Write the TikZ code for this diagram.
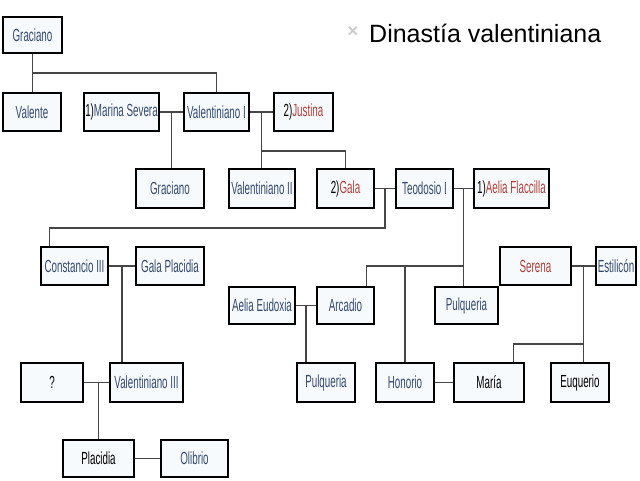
\documentclass[tikz,border=0pt]{standalone}
\usepackage{fontspec}
\setmainfont{Liberation Sans}
\newfontfamily\estrecha{Liberation Sans}[FakeStretch=0.56]
\usepackage{tikz}
\usetikzlibrary{calc}

\definecolor{azul}{RGB}{52,73,110}
\definecolor{rojo}{RGB}{176,64,56}
\definecolor{fondo}{RGB}{247,250,253}
\definecolor{linea}{RGB}{70,70,70}

\begin{document}
\begin{tikzpicture}[x=1pt,y=-1pt,
	caja/.style={draw,line width=2.2pt,fill=fondo,inner sep=0pt,font=\estrecha\fontsize{17.5}{19}\selectfont},
	azulcaja/.style={caja,text=azul},
	union/.style={draw=linea,line width=1.1pt}]
						\useasboundingbox (0,0) rectangle (640,480);
						
						% Title
						\node[text=gray!40,font=\bfseries\fontsize{19}{19}\selectfont] (marca) at (353,32) {×};
						\node[anchor=base west,inner sep=0pt,font=\fontsize{25}{25}\selectfont] (titulo) at (369,42) {Dinastía valentiniana};
						
						% Define the boxes of the family tree
						\node[azulcaja,minimum width=59pt,minimum height=36pt] (Graciano) at (32.5,35) {Graciano};
						
						\node[azulcaja,minimum width=58pt,minimum height=38pt] (Valente) at (32,112) {Valente};
						\node[caja,minimum width=75pt,minimum height=38pt] (MarinaSevera) at (121.5,112) {1)\textcolor{azul}{Marina Severa}};
						\node[azulcaja,minimum width=65pt,minimum height=38pt] (ValentinianoI) at (216.5,112) {Valentiniano I};
						\node[caja,minimum width=59pt,minimum height=38pt] (Justina) at (303.5,112) {2)\textcolor{rojo}{Justina}};
						
						\node[azulcaja,minimum width=68pt,minimum height=39pt] (GracianoII) at (170,188.5) {Graciano};
						\node[azulcaja,minimum width=66pt,minimum height=39pt] (ValentinianoII) at (262,188.5) {Valentiniano II};
						\node[caja,minimum width=57pt,minimum height=39pt] (Gala) at (345.5,188.5) {2)\textcolor{rojo}{Gala}};
						\node[azulcaja,minimum width=57pt,minimum height=39pt] (TeodosioI) at (424.5,188.5) {Teodosio I};
						\node[caja,minimum width=75pt,minimum height=39pt] (AeliaFlaccilla) at (511.5,188.5) {1)\textcolor{rojo}{Aelia Flaccilla}};
						
						\node[azulcaja,minimum width=67pt,minimum height=38pt] (ConstancioIII) at (74.5,266) {Constancio III};
						\node[azulcaja,minimum width=68pt,minimum height=38pt] (GalaPlacidia) at (170,266) {Gala Placidia};
						\node[caja,text=rojo,minimum width=71pt,minimum height=38pt] (Serena) at (535.5,266) {Serena};
						\node[azulcaja,minimum width=40pt,minimum height=38pt] (Estilicon) at (616,266) {Estilicón};
						
						\node[azulcaja,minimum width=66pt,minimum height=37pt] (AeliaEudoxia) at (262,305.5) {Aelia Eudoxia};
						\node[azulcaja,minimum width=57pt,minimum height=37pt] (Arcadio) at (345.5,305.5) {Arcadio};
						\node[azulcaja,minimum width=63pt,minimum height=37pt] (PulqueriaI) at (466.5,305.5) {Pulqueria};
						
						\node[caja,minimum width=62pt,minimum height=39pt] (Desconocido) at (52,382.5) {?};
						\node[azulcaja,minimum width=73pt,minimum height=39pt] (ValentinianoIII) at (146.5,382.5) {Valentiniano III};
						\node[azulcaja,minimum width=58pt,minimum height=39pt] (PulqueriaII) at (326,382.5) {Pulqueria};
						\node[azulcaja,minimum width=58pt,minimum height=39pt] (Honorio) at (405,382.5) {Honorio};
						\node[caja,minimum width=70pt,minimum height=39pt] (Maria) at (489,382.5) {María};
						\node[caja,minimum width=58pt,minimum height=39pt] (Euquerio) at (580,382.5) {Euquerio};
						
						\node[caja,minimum width=71pt,minimum height=37pt] (Placidia) at (98.5,458.5) {Placidia};
						\node[azulcaja,minimum width=67pt,minimum height=37pt] (Olibrio) at (194.5,458.5) {Olibrio};
						
						% Define the levels of the branches
						\coordinate (nivelA) at (0,73);
						\coordinate (nivelB) at (0,151);
						\coordinate (nivelC) at (0,228);
						\coordinate (nivelD) at (0,266);
						\coordinate (nivelE) at (0,344);
						
						% Draw the children of Graciano
						\draw[union] (Graciano.south) -- (Graciano.south |- Valente.north);
						\draw[union] (Graciano.south |- nivelA) -| (ValentinianoI.north);
						
						% Draw the marriages of Valentiniano I
						\draw[union] (MarinaSevera) -- (ValentinianoI);
						\draw[union] (ValentinianoI) -- (Justina);
						\coordinate (m1) at ($(MarinaSevera.east)!0.5!(ValentinianoI.west)$);
						\coordinate (m2) at ($(ValentinianoI.east)!0.5!(Justina.west)$);
						\draw[union] (m1) -- (m1 |- GracianoII.north);
						\draw[union] (m2) -- (m2 |- ValentinianoII.north);
						\draw[union] (m2 |- nivelB) -| (Gala.north);
						
						% Draw the marriages of Teodosio I
						\draw[union] (Gala) -- (TeodosioI);
						\draw[union] (TeodosioI) -- (AeliaFlaccilla);
						\coordinate (m3) at ($(Gala.east)!0.5!(TeodosioI.west)$);
						\coordinate (m4) at ($(TeodosioI.east)!0.5!(AeliaFlaccilla.west)$);
						\draw[union] (m3) -- (m3 |- nivelC) -| ([xshift=10pt]ConstancioIII.north west);
						\draw[union] (m4) -- (m4 |- PulqueriaI.north);
						\draw[union] (m4 |- nivelD) -| ([xshift=-9pt]Arcadio.north east);
						\draw[union] (Honorio.north) -- (Honorio.north |- nivelD);
						
						% Draw the line of Gala Placidia
						\draw[union] (ConstancioIII) -- (GalaPlacidia);
						\coordinate (m5) at ($(ConstancioIII.east)!0.5!(GalaPlacidia.west)$);
						\draw[union] (m5) -- (m5 |- ValentinianoIII.north);
						\draw[union] (Desconocido) -- (ValentinianoIII);
						\draw[union] (Placidia.north) -- (Placidia.north |- ValentinianoIII.west);
						\draw[union] (Placidia) -- (Olibrio);
						
						% Draw the line of Serena
						\draw[union] (Serena) -- (Estilicon);
						\coordinate (m6) at ($(Serena.east)!0.5!(Estilicon.west)$);
						\draw[union] (m6) -- (m6 |- Euquerio.north);
						\draw[union] (m6 |- nivelE) -| ([xshift=-12pt]Maria.north east);
						\draw[union] (Honorio) -- (Maria);
						
						% Draw the line of Arcadio
						\draw[union] (AeliaEudoxia) -- (Arcadio);
						\coordinate (m7) at ($(AeliaEudoxia.east)!0.5!(Arcadio.west)$);
						\draw[union] (m7) -- (m7 |- PulqueriaII.north);
					\end{tikzpicture}
\end{document}
